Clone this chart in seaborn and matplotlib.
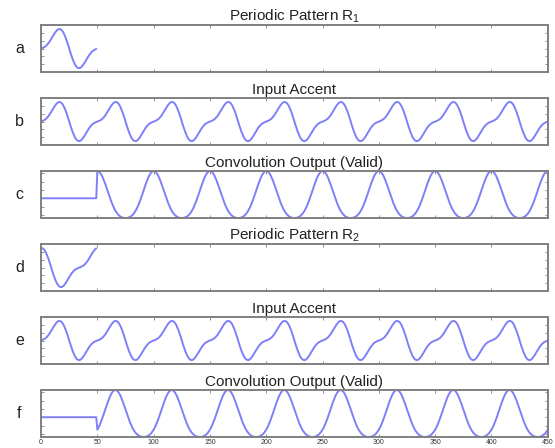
import numpy as np
import matplotlib
matplotlib.use("Agg")
import matplotlib.pyplot as plt
import seaborn as sns
from matplotlib.ticker import MaxNLocator

# one period (50 samples) of the periodic pattern R1
pattern_r1 = [0.00, 0.02, 0.05, 0.08, 0.12, 0.17, 0.24, 0.31, 0.40, 0.49,
              0.59, 0.69, 0.78, 0.86, 0.93, 0.98, 1.00, 0.99, 0.96, 0.89,
              0.80, 0.67, 0.53, 0.36, 0.19, 0.00, -0.19, -0.36, -0.53, -0.67,
              -0.80, -0.89, -0.96, -0.99, -1.00, -0.98, -0.93, -0.86, -0.78, -0.69,
              -0.59, -0.49, -0.40, -0.31, -0.24, -0.17, -0.12, -0.08, -0.05, -0.02]
r2_shift = 16          # R2 is R1 started 16 samples later
n_periods = 9          # input accent = 9 repeats of the pattern
row_labels = ["a", "b", "c", "d", "e", "f"]
titles = ["Periodic Pattern R$_1$", "Input Accent", "Convolution Output (Valid)",
          "Periodic Pattern R$_2$", "Input Accent", "Convolution Output (Valid)"]
x_ticks = list(range(0, 451, 50))

line_color = "#7f7ff8"
spine_color = "#808080"

sns.set_theme(style="white")
plt.rcParams['font.family'] = ['Liberation Sans', 'DejaVu Sans']
plt.rcParams['mathtext.default'] = 'regular'

r1 = np.array(pattern_r1)
r2 = np.roll(r1, -r2_shift)
accent = np.tile(r1, n_periods)


def valid_output(signal, kernel):
    # zero padded for the first len(kernel) samples, then the valid part
    out = np.correlate(signal, kernel, mode="valid")
    return np.concatenate([np.zeros(len(kernel)), out])


series = [r1, accent, valid_output(accent, r1),
          r2, accent, valid_output(accent, r2)]

fig, axes = plt.subplots(6, 1, figsize=(5.55, 4.48), dpi=100)
fig.subplots_adjust(left=0.074, right=0.987, bottom=0.0246, top=0.944, hspace=0.553)

for i, ax in enumerate(axes):
    y = series[i]
    x = np.arange(len(y))
    sns.lineplot(x=x, y=y, ax=ax, color=line_color, linewidth=1.4)
    ax.set_xlim(0, 450)
    ax.set_xticks(x_ticks)
    if i in (2, 5):
        ax.set_ylim(y.min(), y.max())
        ax.yaxis.set_major_locator(MaxNLocator(6))
    else:
        ax.set_ylim(-1.2, 1.2)
        ax.set_yticks(np.arange(-0.8, 0.81, 0.4))
    ax.set_yticklabels([])
    if i < 5:
        ax.set_xticklabels([])
    ax.tick_params(direction="in", length=2.5, width=0.6, colors=spine_color,
                   top=True, right=True, bottom=True, left=True,
                   labelsize=5, labelcolor="#333333", pad=1.5)
    for sp in ax.spines.values():
        sp.set_color(spine_color)
        sp.set_linewidth(1.4)
    ax.set_xlabel("")
    ax.set_ylabel("")
    ax.set_title(titles[i], fontsize=11, pad=3, color="#222222")
    pos = ax.get_position()
    fig.text(0.035, (pos.y0 + pos.y1) / 2, row_labels[i], fontsize=11.5,
             ha="center", va="center", color="#222222")

plt.savefig("out.png", dpi=100)
